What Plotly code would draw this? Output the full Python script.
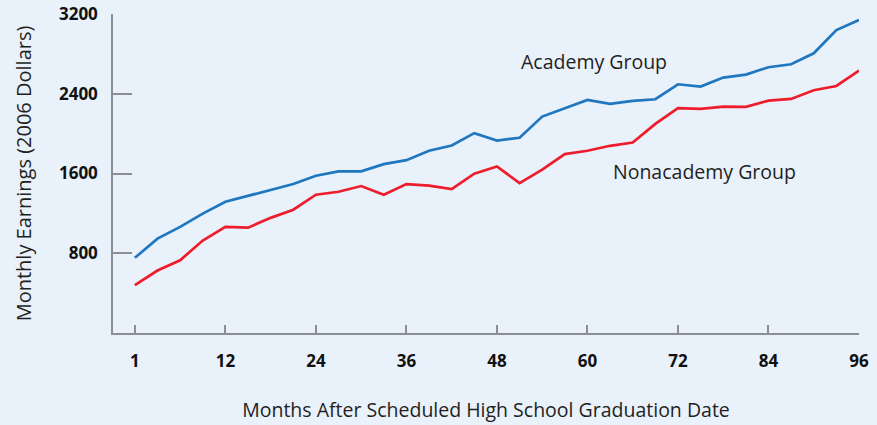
import plotly.graph_objects as go

# x positions (months after scheduled graduation, quarterly observations)
months = [0, 3, 6, 9, 12, 15, 18, 21, 24, 27, 30, 33, 36, 39, 42, 45, 48,
          51, 54, 57, 60, 63, 66, 69, 72, 75, 78, 81, 84, 87, 90, 93, 96]

academy = [754, 947, 1064, 1197, 1317, 1377, 1437, 1494, 1577, 1621, 1621,
           1694, 1734, 1828, 1881, 2005, 1931, 1958, 2171, 2255, 2338, 2298,
           2328, 2345, 2495, 2472, 2562, 2592, 2666, 2696, 2806, 3039, 3139]

nonacademy = [480, 627, 730, 927, 1064, 1057, 1155, 1237, 1387, 1417, 1474,
              1387, 1494, 1478, 1444, 1598, 1671, 1504, 1638, 1795, 1828, 1878,
              1911, 2098, 2255, 2248, 2271, 2268, 2331, 2348, 2435, 2478, 2632]

x_tickvals = [0, 12, 24, 36, 48, 60, 72, 84, 96]
x_ticktext = ["1", "12", "24", "36", "48", "60", "72", "84", "96"]
y_tickvals = [800, 1600, 2400, 3200]
y_ticktext = ["800", "1600", "2400", "3200"]

label_academy = "Academy Group"
label_nonacademy = "Nonacademy Group"

BLUE = "#1f77c0"
RED = "#ee1d2b"
BG = "#e9f1fb"
AXIS = "#8a8f96"
TEXT = "#231f20"
FONT = "Open Sans"

fig = go.Figure()
fig.add_trace(go.Scatter(x=months, y=academy, mode="lines",
                         line=dict(color=BLUE, width=2.7), name=label_academy))
fig.add_trace(go.Scatter(x=months, y=nonacademy, mode="lines",
                         line=dict(color=RED, width=2.7), name=label_nonacademy))

fig.add_annotation(x=60.9, y=2720, xref="x", yref="y",
                   text=label_academy, showarrow=False,
                   font=dict(family=FONT, size=19.5, color=TEXT))
fig.add_annotation(x=75.5, y=1620, xref="x", yref="y",
                   text=label_nonacademy, showarrow=False,
                   font=dict(family=FONT, size=19.5, color=TEXT))

fig.update_layout(
    width=877, height=425,
    margin=dict(l=113, r=18, t=14, b=92, autoexpand=False),
    paper_bgcolor=BG, plot_bgcolor=BG,
    showlegend=False,
    font=dict(family=FONT, color=TEXT),
    xaxis=dict(
        range=[-2.9, 96], tickvals=x_tickvals, ticktext=x_ticktext,
        ticks="inside", ticklen=8, tickwidth=1.5, tickcolor=AXIS,
        showline=True, linecolor=AXIS, linewidth=1.5,
        showgrid=False, zeroline=False, automargin=False,
        tickfont=dict(family=FONT, size=17, color="#111111", weight="bold"),
        ticklabelstandoff=12,
        title=dict(text="Months After Scheduled High School Graduation Date",
                   font=dict(family=FONT, size=19.5, color=TEXT), standoff=32),
    ),
    yaxis=dict(
        range=[0, 3200], tickvals=y_tickvals, ticktext=y_ticktext,
        ticks="inside", ticklen=19, tickwidth=1.5, tickcolor=AXIS,
        showline=True, linecolor=AXIS, linewidth=1.5,
        showgrid=False, zeroline=False, automargin=False,
        tickfont=dict(family=FONT, size=17, color="#111111", weight="bold"),
        ticklabelstandoff=10,
        title=dict(text="Monthly Earnings (2006 Dollars)",
                   font=dict(family=FONT, size=20, color=TEXT), standoff=22),
    ),
)

fig.write_html("out.html", config={"displayModeBar": False},
               post_script="document.body.style.margin='0';document.body.style.background='%s';" % BG)
